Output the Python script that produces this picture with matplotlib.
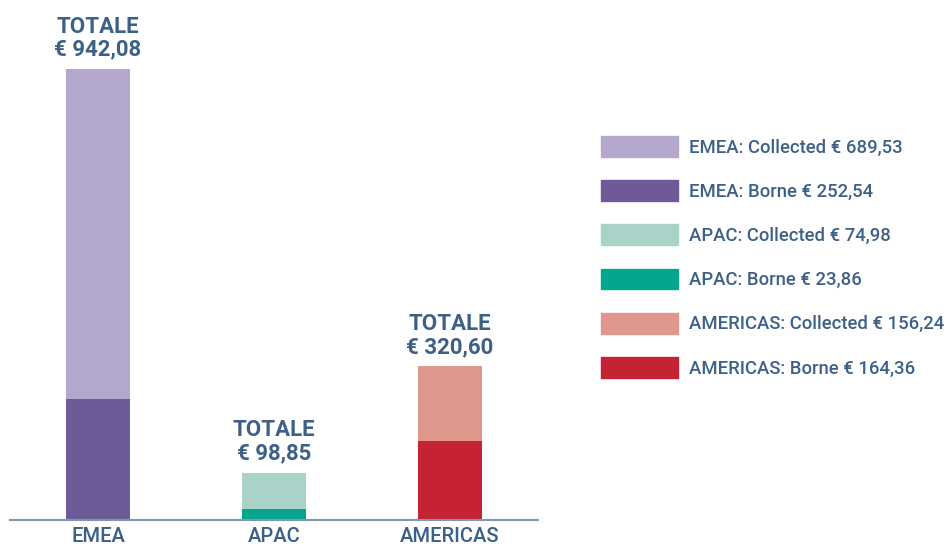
import matplotlib.pyplot as plt
from matplotlib.patches import Patch

regions = ["EMEA", "APAC", "AMERICAS"]
borne = [252.54, 23.86, 164.36]
collected = [689.53, 74.98, 156.24]
totals = ["942,08", "98,85", "320,60"]
borne_labels = ["252,54", "23,86", "164,36"]
collected_labels = ["689,53", "74,98", "156,24"]

borne_colors = ["#6d5a97", "#06a68e", "#c52334"]
collected_colors = ["#b3a7cb", "#a9d3c8", "#e0978b"]
text_color = "#3d6186"

plt.rcParams['font.family'] = ['Roboto', 'DejaVu Sans']

fig = plt.figure(figsize=(9.49, 5.51), dpi=100)
ax = fig.add_axes([10 / 949, 31 / 551, 528 / 949, 520 / 551])

x = list(range(len(regions)))
width = 0.364
ax.bar(x, borne, width, color=borne_colors)
ax.bar(x, collected, width, bottom=borne, color=collected_colors)

for i in x:
    top = borne[i] + collected[i]
    ax.annotate(f"TOTALE\n€ {totals[i]}", (i, top), xytext=(0, 6), textcoords="offset points",
                ha="center", va="bottom", fontsize=16, fontweight="bold",
                color=text_color, linespacing=1.05)

ax.set_xlim(-0.5, 2.5)
ax.set_ylim(0, 1086)
ax.set_xticks(x)
ax.set_xticklabels(regions, fontsize=14.5, color=text_color, fontweight="medium")
ax.tick_params(axis="x", length=0, pad=5)
ax.set_yticks([])
for s in ["top", "right", "left"]:
    ax.spines[s].set_visible(False)
ax.spines["bottom"].set_color("#7f97b0")
ax.spines["bottom"].set_linewidth(1.5)

handles = []
for i, r in enumerate(regions):
    handles.append(Patch(color=collected_colors[i], label=f"{r}: Collected € {collected_labels[i]}"))
    handles.append(Patch(color=borne_colors[i], label=f"{r}: Borne € {borne_labels[i]}"))

leg = fig.legend(handles=handles, loc="upper left", bbox_to_anchor=(601 / 949, 1 - 136 / 551),
                 frameon=False, labelcolor=text_color, handlelength=4.16,
                 handleheight=1.35, labelspacing=1.27, handletextpad=0.6, borderpad=0,
                 borderaxespad=0, prop={"size": 13.3, "weight": "medium"})

fig.savefig("out.png", dpi=100)
